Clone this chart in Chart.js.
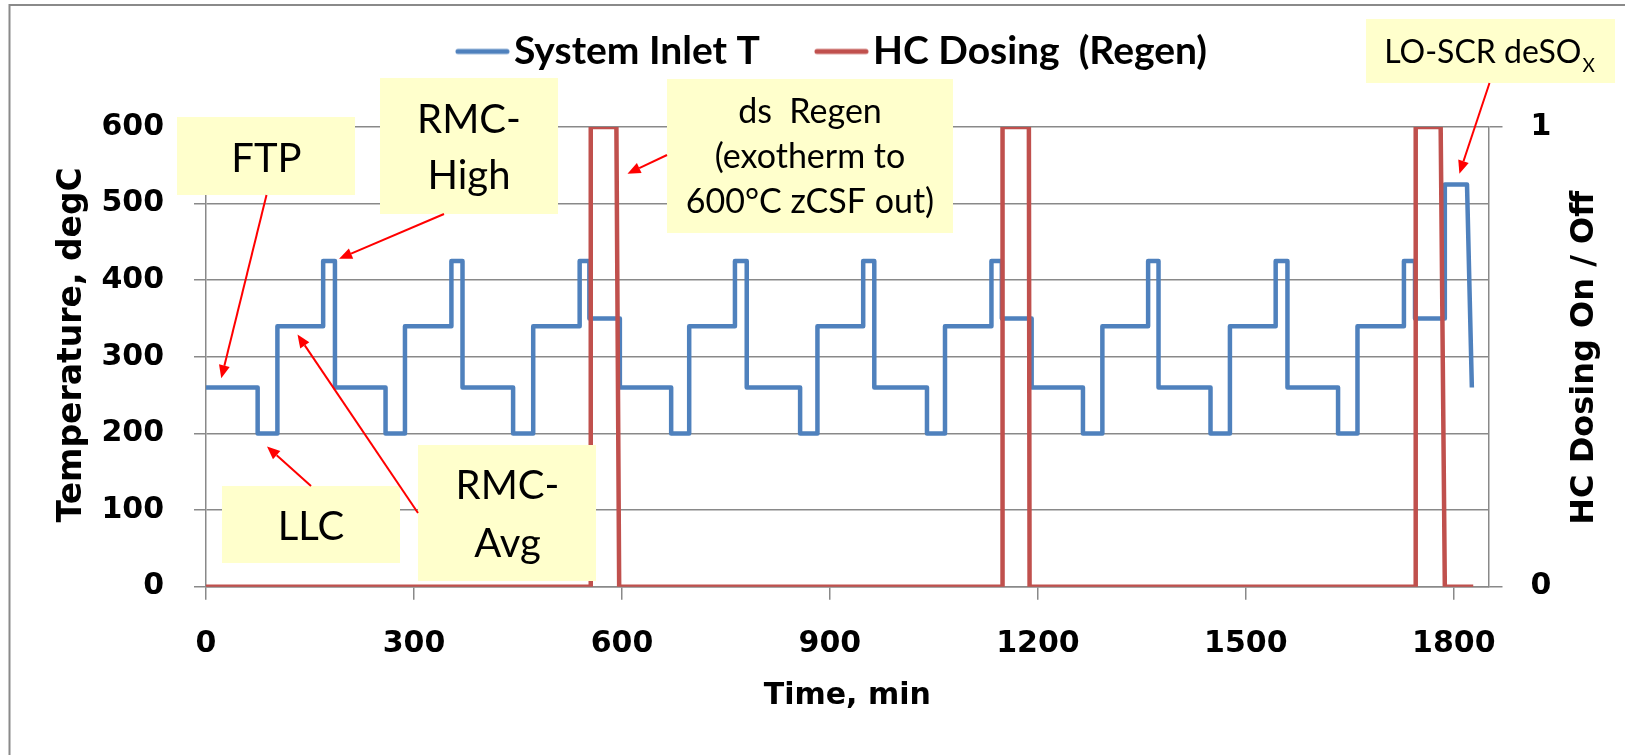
<!DOCTYPE html>
<html>
<head>
<meta charset="utf-8">
<title>System Inlet T / HC Dosing</title>
<script src="https://cdn.jsdelivr.net/npm/chart.js@4.4.1/dist/chart.umd.min.js"></script>
<style>
  html, body { margin: 0; padding: 0; background: #ffffff; }
  #wrap { width: 1625px; height: 755px; }
</style>
</head>
<body>
<div id="wrap"><canvas id="cycleChart" width="1625" height="755"></canvas></div>
<script>
// System inlet temperature (degC) vs time (min)
const inletTime = [
    0, 74.5, 74.5, 103, 103, 169, 169, 186, 186,
    259, 259, 287, 287, 354, 354, 370, 370,
    443, 443, 472, 472, 539, 539, 553, 553, 597, 597,
    671, 671, 697, 697, 763, 763, 780, 780,
    857, 857, 882, 882, 948, 948, 964, 964,
    1040, 1040, 1066, 1066, 1133, 1133, 1148, 1148, 1191, 1191,
    1265, 1265, 1293, 1293, 1359, 1359, 1374, 1374,
    1449, 1449, 1477, 1477, 1543, 1543, 1560, 1560,
    1633, 1633, 1661, 1661, 1728, 1728, 1744, 1744, 1787, 1787, 1819, 1826
];
const inletTemp = [
    260, 260, 200, 200, 340, 340, 425, 425, 260,
    260, 200, 200, 340, 340, 425, 425, 260,
    260, 200, 200, 340, 340, 425, 425, 350, 350, 260,
    260, 200, 200, 340, 340, 425, 425, 260,
    260, 200, 200, 340, 340, 425, 425, 260,
    260, 200, 200, 340, 340, 425, 425, 350, 350, 260,
    260, 200, 200, 340, 340, 425, 425, 260,
    260, 200, 200, 340, 340, 425, 425, 260,
    260, 200, 200, 340, 340, 425, 425, 350, 350, 525, 525, 260
];

// HC dosing on/off (regen events)
const dosingTime = [0, 555, 555, 592, 596, 1149, 1149, 1187, 1188, 1745, 1745, 1781, 1787, 1828];
const dosingState = [0, 0, 1, 1, 0, 0, 1, 1, 0, 0, 1, 1, 0, 0];

// tick labels
const timeTicks = [0, 300, 600, 900, 1200, 1500, 1800];
const tempTicks = [0, 100, 200, 300, 400, 500, 600];
const dosingTicks = [0, 1];

const seriesLabels = ['System Inlet T', 'HC Dosing  (Regen)'];
const leftTitle = 'Temperature, degC';
const rightTitle = 'HC Dosing On / Off';

const blue = '#4F81BD';
const red = '#C0504D';
const gridGray = '#898989';
const tickFont = { family: 'DejaVu Sans', weight: 'bold', size: 30 };

// callout boxes drawn over the plot (pixel boxes, arrow tips in data units)
const callouts = [
    { rect: [177, 117, 178, 78], size: 40, cx: 266.5, lines: [['FTP', 172]], tail: [266.5, 195], tip: [22, 272] },
    { rect: [380, 78, 178, 136], size: 40, cx: 469, lines: [['RMC-', 132.7], ['High', 189.3]], tail: [444, 214], tip: [192, 428] },
    { rect: [222, 486, 178, 77], size: 40, cx: 311, lines: [['LLC', 540]], tail: [311, 486], tip: [88, 183] },
    { rect: [418, 445, 178, 136], size: 40, cx: 507.5, lines: [['RMC-', 499.3], ['Avg', 556.7]], tail: [418, 513], tip: [132, 329] },
    { rect: [667, 79, 286, 154], size: 34, cx: 810, lines: [['ds  Regen', 123.3], ['(exotherm to', 168.3], ['600°C zCSF out)', 213.3]], tail: [667, 155], tip: [608, 539] },
    { rect: [1366, 19, 249, 64], size: 32, cx: 1489.5, lines: [['LO-SCR deSO', 63.3]], sub: 'X', tail: [1489.5, 83], tip: [1808, 539] }
];

// short line used as the legend marker
function legendLine(color) {
    const c = document.createElement('canvas');
    c.width = 55;
    c.height = 8;
    const g = c.getContext('2d');
    g.strokeStyle = color;
    g.lineWidth = 5;
    g.lineCap = 'round';
    g.beginPath();
    g.moveTo(3, 4);
    g.lineTo(52, 4);
    g.stroke();
    return c;
}

function drawArrow(ctx, x0, y0, x1, y1) {
    const ang = Math.atan2(y1 - y0, x1 - x0);
    const head = 13, half = 5.5;
    const bx = x1 - head * Math.cos(ang);
    const by = y1 - head * Math.sin(ang);
    ctx.beginPath();
    ctx.moveTo(x0, y0);
    ctx.lineTo(bx, by);
    ctx.stroke();
    ctx.beginPath();
    ctx.moveTo(x1, y1);
    ctx.lineTo(bx + half * Math.sin(ang), by - half * Math.cos(ang));
    ctx.lineTo(bx - half * Math.sin(ang), by + half * Math.cos(ang));
    ctx.closePath();
    ctx.fill();
}

// vertical axis title, reading bottom to top
function drawVerticalTitle(ctx, text, x, y, size) {
    ctx.save();
    ctx.translate(x, y);
    ctx.rotate(-Math.PI / 2);
    ctx.font = 'bold ' + size + 'px "DejaVu Sans"';
    ctx.fillStyle = '#000';
    ctx.textAlign = 'center';
    ctx.textBaseline = 'middle';
    ctx.fillText(text, 0, 0);
    ctx.restore();
}

const slidePlugin = {
    id: 'slide',
    beforeDraw(chart) {
        const ctx = chart.ctx;
        ctx.save();
        ctx.fillStyle = '#ffffff';
        ctx.fillRect(0, 0, chart.width, chart.height);
        ctx.restore();
    },
    afterLayout(chart) {
        // legend sits higher than Chart.js would stack it
        const lg = chart.legend;
        const h = lg.height;
        lg.top = -37.5;
        lg.bottom = lg.top + h;
        const dx = 838.75 - (lg.left + lg.right) / 2;
        lg.left += dx;
        lg.right += dx;
    },
    afterDraw(chart) {
        const ctx = chart.ctx;
        const xs = chart.scales.x, ys = chart.scales.y, y2 = chart.scales.y2;
        const midY = (ys.top + ys.bottom) / 2;
        ctx.save();

        // frame of the slide picture
        ctx.strokeStyle = '#8a8a8a';
        ctx.lineWidth = 2;
        ctx.beginPath();
        ctx.moveTo(9.5, 755);
        ctx.lineTo(9.5, 5);
        ctx.lineTo(1625, 5);
        ctx.stroke();

        drawVerticalTitle(ctx, leftTitle, ys.left + 32, midY - 12, 33);
        drawVerticalTitle(ctx, rightTitle, y2.right - 30, midY + 1, 32);

        // callout boxes
        callouts.forEach(c => {
            ctx.fillStyle = '#FFFFCC';
            ctx.fillRect(c.rect[0], c.rect[1], c.rect[2], c.rect[3]);
            ctx.fillStyle = '#000';
            ctx.textBaseline = 'alphabetic';
            ctx.font = c.size + 'px Lato';
            if (c.sub) {
                const w1 = ctx.measureText(c.lines[0][0]).width;
                ctx.font = '19px Lato';
                const w2 = ctx.measureText(c.sub).width;
                const x0 = c.cx - (w1 + w2 + 1) / 2;
                ctx.textAlign = 'left';
                ctx.font = c.size + 'px Lato';
                ctx.fillText(c.lines[0][0], x0, c.lines[0][1]);
                ctx.font = '19px Lato';
                ctx.fillText(c.sub, x0 + w1 + 1, c.lines[0][1] + 8.4);
            } else {
                ctx.textAlign = 'center';
                c.lines.forEach(l => ctx.fillText(l[0], c.cx, l[1]));
            }
        });

        // arrows
        ctx.strokeStyle = '#FF0000';
        ctx.fillStyle = '#FF0000';
        ctx.lineWidth = 2;
        callouts.forEach(c => {
            const tx = xs.getPixelForValue(c.tip[0]);
            const ty = ys.getPixelForValue(c.tip[1]);
            drawArrow(ctx, c.tail[0], c.tail[1], tx, ty);
        });
        ctx.restore();
    }
};

const ctx = document.getElementById('cycleChart').getContext('2d');

const cycleChart = new Chart(ctx, {
    type: 'line',
    data: {
        datasets: [{
            label: seriesLabels[0],
            data: inletTime.map((t, i) => ({ x: t, y: inletTemp[i] })),
            yAxisID: 'y',
            borderColor: blue,
            backgroundColor: blue,
            borderWidth: 4.5,
            borderJoinStyle: 'round',
            pointRadius: 0,
            pointStyle: legendLine(blue),
            fill: false,
            order: 1
        }, {
            label: seriesLabels[1],
            data: dosingTime.map((t, i) => ({ x: t, y: dosingState[i] })),
            yAxisID: 'y2',
            borderColor: red,
            backgroundColor: red,
            borderWidth: 4.5,
            borderJoinStyle: 'round',
            pointRadius: 0,
            pointStyle: legendLine(red),
            fill: false,
            order: 0
        }]
    },
    options: {
        responsive: false,
        animation: false,
        devicePixelRatio: 1,
        events: [],
        layout: { padding: { left: 40, right: 10, top: 8.4, bottom: 0 } },
        plugins: {
            legend: {
                position: 'top',
                labels: {
                    usePointStyle: true,
                    pointStyleWidth: 24,
                    padding: 69.5,
                    color: '#000',
                    font: { family: 'Lato', weight: 'bold', size: 39 },
                    sort: (a, b) => a.datasetIndex - b.datasetIndex
                }
            },
            tooltip: { enabled: false }
        },
        scales: {
            x: {
                type: 'linear',
                min: 0,
                max: 1850,
                afterBuildTicks: s => { s.ticks = timeTicks.map(v => ({ value: v })); },
                afterFit: s => { s.height = 168.3; },
                grid: { drawOnChartArea: false, tickLength: 13, color: gridGray, lineWidth: 1.5 },
                border: { display: true, color: gridGray, width: 1.5 },
                ticks: {
                    color: '#000',
                    font: tickFont,
                    padding: 27,
                    maxRotation: 0,
                    autoSkip: false,
                    callback: v => String(v)
                },
                title: {
                    display: true,
                    text: 'Time, min',
                    color: '#000',
                    font: { family: 'DejaVu Sans', weight: 'bold', size: 30 },
                    padding: { top: 0, bottom: 41 }
                }
            },
            y: {
                position: 'left',
                min: 0,
                max: 600,
                afterBuildTicks: s => { s.ticks = tempTicks.map(v => ({ value: v })); },
                afterFit: s => { s.width = 166; },
                grid: { color: gridGray, lineWidth: 1.5, tickLength: 12 },
                border: { display: true, color: gridGray, width: 1.5 },
                ticks: { color: '#000', font: tickFont, padding: 30, callback: v => String(v) }
            },
            y2: {
                position: 'right',
                min: 0,
                max: 1,
                afterBuildTicks: s => { s.ticks = dosingTicks.map(v => ({ value: v })); },
                afterFit: s => { s.width = 126.5; },
                grid: { drawOnChartArea: false, tickLength: 14, color: gridGray, lineWidth: 1.5 },
                border: { display: true, color: gridGray, width: 1.5 },
                ticks: { color: '#000', font: tickFont, padding: 28, callback: v => String(v) }
            }
        }
    },
    plugins: [slidePlugin]
});
</script>
</body>
</html>
